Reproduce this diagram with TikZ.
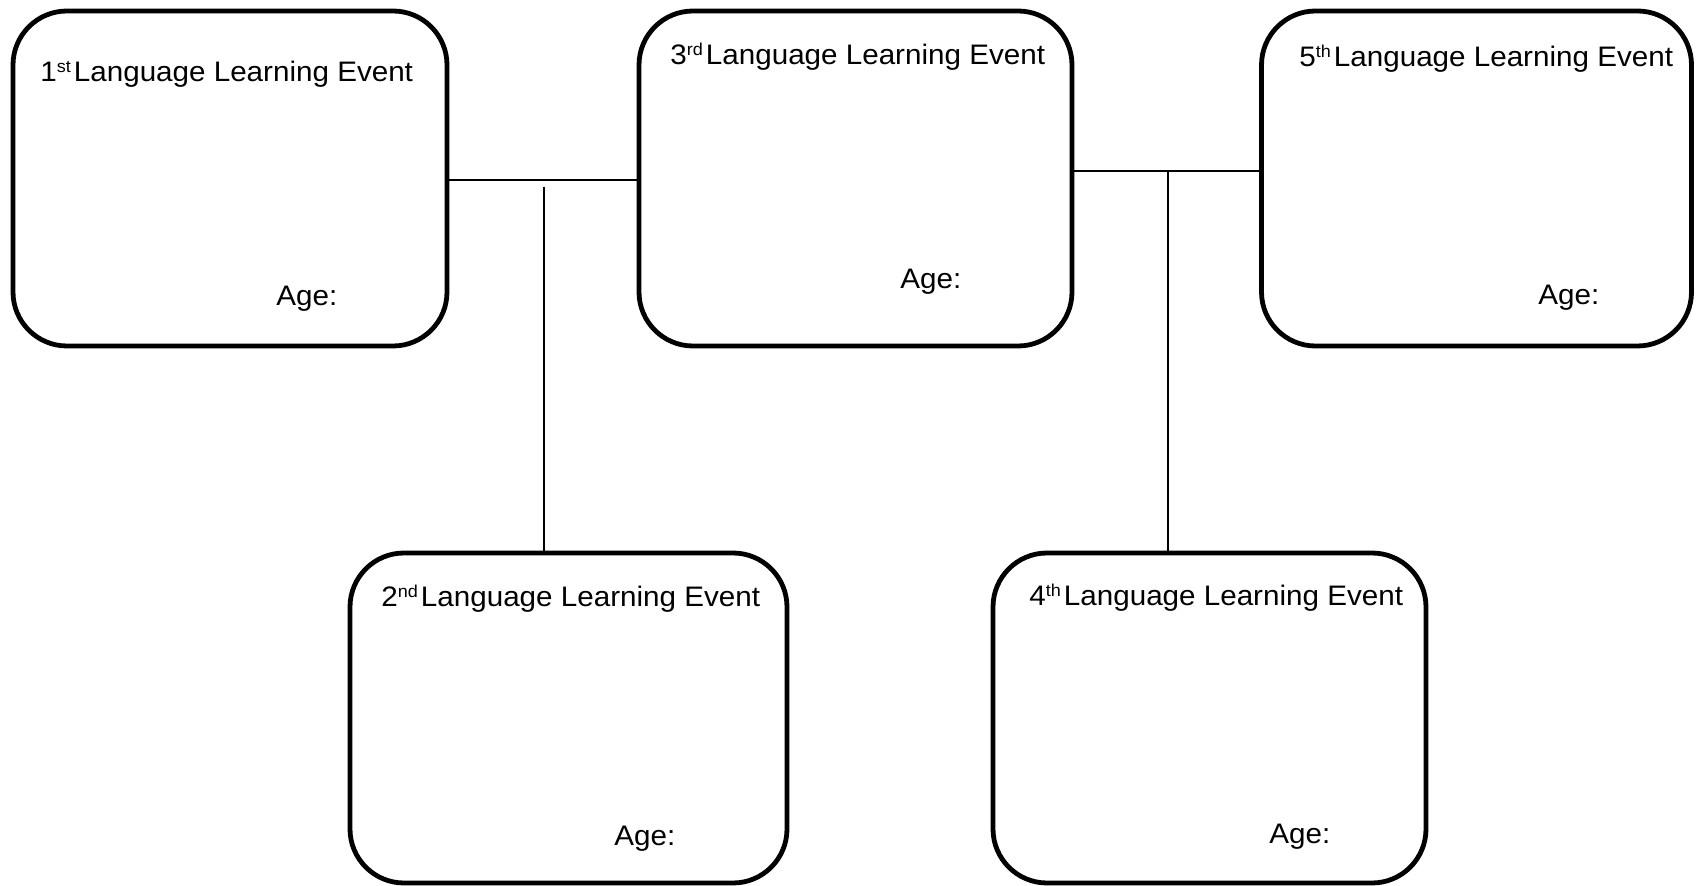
\documentclass[tikz,border=0pt]{standalone}
\usepackage{fontspec}
\setmainfont{Liberation Sans}[FakeStretch=1.05]
\newcommand{\ordsup}[1]{\raisebox{0.62ex}{\fontsize{8.6}{9}\selectfont #1}\hspace{1.5pt}}
\begin{document}
\begin{tikzpicture}[x=0.5pt,y=-0.5pt,
  evbox/.style={draw=black,line width=2.4pt,rounded corners=27pt,fill=white,inner sep=0pt},
  title/.style={anchor=west,inner sep=0pt,font=\fontsize{14.1}{16}\selectfont},
  agelbl/.style={anchor=west,inner sep=0pt,font=\fontsize{14.1}{16}\selectfont},
  link/.style={draw=black,line width=1.1pt}]
\useasboundingbox (0,0) rectangle (1696,886);
% boxes
\node[evbox,minimum width=217pt,minimum height=167.5pt] (b1) at (230,178.5) {};
\node[evbox,minimum width=216.5pt,minimum height=167.5pt] (b3) at (855.5,178.5) {};
\node[evbox,minimum width=215pt,minimum height=167.5pt] (b5) at (1476.5,178.5) {};
\node[evbox,minimum width=218.5pt,minimum height=165pt] (b2) at (568.5,718) {};
\node[evbox,minimum width=216.5pt,minimum height=165pt] (b4) at (1209.5,718) {};
% titles
\node[title] (t1) at (40,74) {1\ordsup{st}Language Learning Event};
\node[title] (t3) at (670,57) {3\ordsup{rd}Language Learning Event};
\node[title] (t5) at (1299,59) {5\ordsup{th}Language Learning Event};
\node[title] (t2) at (381,599) {2\ordsup{nd}Language Learning Event};
\node[title] (t4) at (1029,598) {4\ordsup{th}Language Learning Event};
% ages
\node[agelbl] (a1) at (276,299) {Age:};
\node[agelbl] (a3) at (900,282) {Age:};
\node[agelbl] (a5) at (1538,298) {Age:};
\node[agelbl] (a2) at (614,839) {Age:};
\node[agelbl] (a4) at (1269,837) {Age:};
% connectors
\coordinate (hl) at (544,180);
\coordinate (lv) at (544,187);
\coordinate (hr) at (1168,171);
\draw[link] (b1.east |- hl) -- (b3.west |- hl);
\draw[link] (lv) -- (lv |- b2.north);
\draw[link] (b3.east |- hr) -- (b5.west |- hr);
\draw[link] (hr) -- (hr |- b4.north);
\end{tikzpicture}
\end{document}
